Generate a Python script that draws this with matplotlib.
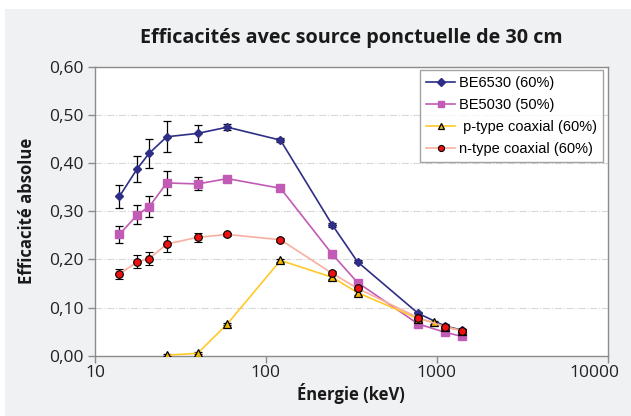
import numpy as np
import matplotlib
matplotlib.use("Agg")
import matplotlib.pyplot as plt
from matplotlib.patches import Rectangle
from matplotlib.transforms import ScaledTranslation
from matplotlib.ticker import FuncFormatter, FixedLocator, NullLocator

# ---------------------------- données ----------------------------
energie = [13.9, 17.7, 20.8, 26.3, 39.9, 59.5, 121.8, 244.7, 344.3, 778.9, 1112.1, 1408.0]

be6530 = [0.331, 0.389, 0.421, 0.455, 0.462, 0.475, 0.448, 0.272, 0.195, 0.088, 0.062, 0.053]
be6530_err = [0.024, 0.027, 0.030, 0.032, 0.017, 0.006, 0.004, 0.004, 0.003, 0.003, 0.003, 0.003]

be5030 = [0.252, 0.293, 0.310, 0.359, 0.357, 0.368, 0.348, 0.211, 0.152, 0.066, 0.049, 0.040]
be5030_err = [0.017, 0.020, 0.022, 0.025, 0.0135, 0.004, 0.004, 0.004, 0.003, 0.003, 0.003, 0.003]

energie_p = [26.3, 39.9, 59.5, 121.8, 244.7, 344.3, 778.9, 964.1, 1112.1, 1408.0]
ptype = [0.001, 0.005, 0.066, 0.198, 0.163, 0.131, 0.077, 0.069, 0.060, 0.052]
ptype_err = [0.002, 0.002, 0.002, 0.003, 0.004, 0.004, 0.003, 0.003, 0.003, 0.003]

ntype = [0.170, 0.195, 0.202, 0.232, 0.246, 0.252, 0.241, 0.171, 0.140, 0.079, 0.060, 0.052]
ntype_err = [0.011, 0.0135, 0.014, 0.016, 0.010, 0.004, 0.004, 0.004, 0.004, 0.003, 0.003, 0.003]

labels = ["BE6530 (60%)", "BE5030 (50%)", " p-type coaxial (60%)", "n-type coaxial (60%)"]
xticks = [10, 100, 1000, 10000]
yticks = [0.0, 0.1, 0.2, 0.3, 0.4, 0.5, 0.6]

# ---------------------------- figure ----------------------------
plt.rcParams['font.family'] = ['Open Sans', 'DejaVu Sans']

fig = plt.figure(figsize=(6.31, 4.16), dpi=100)
fig.patch.set_facecolor('white')
fig.patches.append(Rectangle((5 / 631, 0), 1, 407 / 416, transform=fig.transFigure,
                             facecolor='#f0f1f3', edgecolor='none', zorder=-10))

ax = fig.add_axes([95 / 631, 60.3 / 416, 512.5 / 631, 288.7 / 416])
ax.set_facecolor('white')

ek = dict(ecolor='black', elinewidth=0.9, capsize=3, capthick=0.9)

ax.errorbar(energie, be6530, yerr=be6530_err, color='#2e2e86', lw=1.2, marker='D', ms=4.5,
            mfc='#2e2e86', mec='#2e2e86', label=labels[0], zorder=3, **ek)
ax.errorbar(energie, be5030, yerr=be5030_err, color='#c25bb5', lw=1.2, marker='s', ms=5.5,
            mfc='#c25bb5', mec='#c25bb5', label=labels[1], zorder=3, **ek)
ax.errorbar(energie_p, ptype, yerr=ptype_err, color='#ffc928', lw=1.2, marker='^', ms=6,
            mfc='#f0b800', mec='black', mew=0.9, label=labels[2], zorder=4, **ek)
ax.errorbar(energie, ntype, yerr=ntype_err, color='#f7b0a0', lw=1.2, marker='o', ms=5.5,
            mfc='#ee1111', mec='black', mew=0.8, label=labels[3], zorder=5, **ek)

ax.set_xscale('log')
ax.set_xlim(10, 10000)
ax.set_ylim(0, 0.6)
ax.xaxis.set_major_locator(FixedLocator(xticks))
ax.xaxis.set_minor_locator(NullLocator())
ax.xaxis.set_major_formatter(FuncFormatter(lambda v, p: '%d' % v))
ax.set_yticks(yticks)
ax.yaxis.set_major_formatter(FuncFormatter(lambda v, p: ('%.2f' % v).replace('.', ',')))

ax.grid(axis='y', color='#d8d8d8', linestyle='-.', lw=0.8, zorder=0)
ax.set_axisbelow(True)
for s in ax.spines.values():
    s.set_color('#8c8c8c')
    s.set_linewidth(1.0)
ax.tick_params(axis='both', colors='#8c8c8c', labelcolor='#222222', labelsize=12.5,
               direction='out', length=5, width=1.0)
ax.tick_params(axis='x', pad=2)

ax.set_title('Efficacités avec source ponctuelle de 30 cm', fontsize=14.2, fontweight='bold',
             color='#1a1a1a', pad=17)
ax.set_xlabel('Énergie (keV)', fontsize=12, fontweight='bold', color='#1a1a1a', labelpad=1)
ax.set_ylabel('Efficacité absolue', fontsize=12, fontweight='bold', color='#1a1a1a', labelpad=9)

handles, labs = ax.get_legend_handles_labels()
handles = [h[0] for h in handles]
leg = ax.legend(handles, labs, loc='upper right', bbox_to_anchor=(0.991, 0.99), borderaxespad=0,
                prop={'family': 'Liberation Sans', 'size': 10.5}, frameon=True, fancybox=False,
                edgecolor='#8c8c8c', handlelength=2.0, labelspacing=0.55, borderpad=0.4,
                handletextpad=0.25, markerscale=0.8)
leg.get_frame().set_linewidth(1.0)

# le dernier libellé (10000) est décalé vers la gauche comme dans Excel
fig.canvas.draw()
last = ax.xaxis.get_major_ticks()[-1].label1
last.set_transform(last.get_transform() + ScaledTranslation(-0.13, 0, fig.dpi_scale_trans))

fig.savefig('out.png', dpi=100, facecolor=fig.get_facecolor())
